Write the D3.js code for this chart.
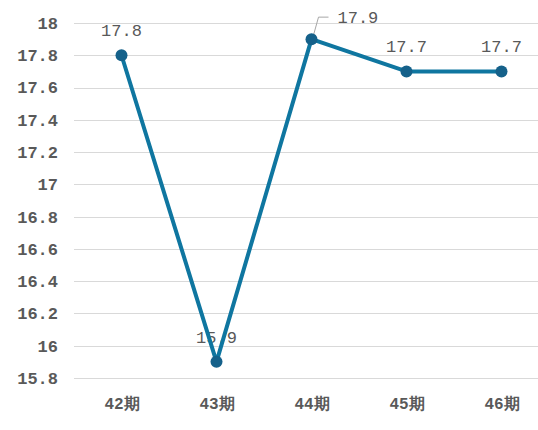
<!DOCTYPE html>
<html>
<head>
<meta charset="utf-8">
<script src="https://cdn.jsdelivr.net/npm/d3@7"></script>
<style>
  body { margin: 0; background: #fff; }
  #container { width: 538px; height: 430px; }
</style>
</head>
<body>
<div id="container"></div>
<script>
const categories = ["42期", "43期", "44期", "45期", "46期"];
const values = [17.8, 15.9, 17.9, 17.7, 17.7];
const yTicks = [15.8, 16, 16.2, 16.4, 16.6, 16.8, 17, 17.2, 17.4, 17.6, 17.8, 18];

const width = 538, height = 430;
const mono = "'Liberation Mono', 'DejaVu Sans Mono', monospace";

const svg = d3.select("#container")
  .append("svg")
  .attr("width", width)
  .attr("height", height);

const x = d3.scalePoint()
  .domain(categories)
  .range([74, 549])
  .padding(0.5);

const y = d3.scaleLinear()
  .domain([15.8, 18])
  .range([378, 23]);

// gridlines
svg.append("g").selectAll("line")
  .data(yTicks)
  .join("line")
  .attr("x1", 74).attr("x2", 549)
  .attr("y1", d => Math.round(y(d)) + 0.5)
  .attr("y2", d => Math.round(y(d)) + 0.5)
  .attr("stroke", "#d9d9d9")
  .attr("stroke-width", 1);

// y axis labels
const yAxis = svg.append("g")
  .attr("transform", "translate(64,0)")
  .call(d3.axisLeft(y).tickValues(yTicks).tickSize(0).tickPadding(6).tickFormat(d => String(+d.toFixed(1))));
yAxis.select(".domain").remove();
yAxis.selectAll("text")
  .attr("fill", "#595959")
  .style("font-family", mono)
  .style("font-weight", "bold")
  .style("font-size", "17px");

// x axis labels
const xAxis = svg.append("g")
  .attr("transform", "translate(0,394)")
  .call(d3.axisBottom(x).tickSize(0).tickPadding(4));
xAxis.select(".domain").remove();
xAxis.selectAll("text")
  .attr("fill", "#595959")
  .style("font-family", mono)
  .style("font-weight", "bold")
  .style("font-size", "16px");

const pts = categories.map((c, i) => ({ c, v: values[i] }));

// data labels (under the line, like the original)
svg.append("g").selectAll("text")
  .data(pts)
  .join("text")
  .attr("x", d => d.c === "44期" ? x(d.c) + 26 : x(d.c))
  .attr("y", d => d.c === "44期" ? y(d.v) - 16 : y(d.v) - 19)
  .attr("text-anchor", d => d.c === "44期" ? "start" : "middle")
  .attr("fill", "#595959")
  .style("font-family", mono)
  .style("font-size", "17px")
  .text(d => d.v.toFixed(1));

// leader line for 44期
const p44 = pts[2];
svg.append("path")
  .attr("d", `M${x(p44.c) + 2},${y(p44.v) - 4} L${x(p44.c) + 7},${y(p44.v) - 22} L${x(p44.c) + 17},${y(p44.v) - 22}`)
  .attr("fill", "none")
  .attr("stroke", "#a6a6a6")
  .attr("stroke-width", 1);

// line
svg.append("path")
  .datum(pts)
  .attr("d", d3.line().x(d => x(d.c)).y(d => y(d.v)))
  .attr("fill", "none")
  .attr("stroke", "#0f76a0")
  .attr("stroke-width", 4)
  .attr("stroke-linejoin", "round");

// markers
svg.append("g").selectAll("circle")
  .data(pts)
  .join("circle")
  .attr("cx", d => x(d.c))
  .attr("cy", d => y(d.v))
  .attr("r", 6)
  .attr("fill", "#15618a");
</script>
</body>
</html>
